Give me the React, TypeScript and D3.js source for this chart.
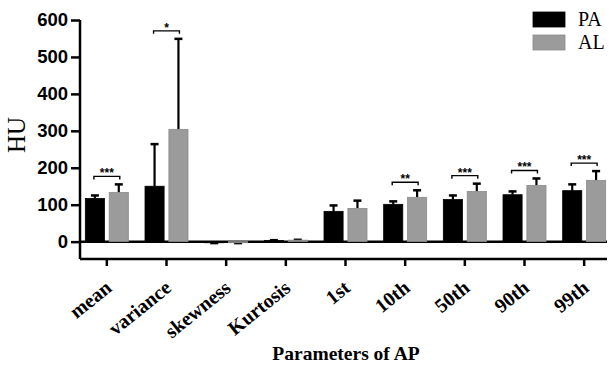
import React, { useRef, useEffect } from 'react';
import * as d3 from 'd3';

const categories = ['mean', 'variance', 'skewness', 'Kurtosis', '1st', '10th', '50th', '90th', '99th'];
const seriesNames = ['PA', 'AL'];
const paValues = [117, 150, -3, 3, 82, 101, 114, 127, 138];
const paErrors = [8, 114, -1, 1, 16, 8, 11, 9, 17];
const alValues = [133, 304, -3, 4, 90, 120, 136, 152, 166];
const alErrors = [22, 245, -1, 1, 21, 19, 21, 19, 25];
const significance = ['***', '*', '', '', '', '**', '***', '***', '***'];
const yTicks = [0, 100, 200, 300, 400, 500, 600];

const serif = '"Liberation Serif", "Times New Roman", serif';
const sans = '"Liberation Sans", Arial, sans-serif';
const colors = ['#000000', '#9b9b9b'];

const App: React.FC = () => {
  const svgRef = useRef<SVGSVGElement | null>(null);
  const width = 609;
  const height = 371;

  useEffect(() => {
    const svg = d3.select(svgRef.current);
    svg.selectAll('*').remove();

    const left = 80;
    const right = 607;
    const top = 20;
    const bottom = 259;

    const x = d3.scaleBand().domain(categories).range([77, 614]);
    const xInner = d3.scaleBand().domain(seriesNames).range([-21.5, 21.5]).paddingInner(0.2);
    const y = d3.scaleLinear().domain([-47, 600]).range([bottom, top]);

    const rows = categories.map((c, i) => ({
      category: c,
      sig: significance[i],
      bars: [
        { name: 'PA', value: paValues[i], err: paErrors[i] },
        { name: 'AL', value: alValues[i], err: alErrors[i] },
      ],
    }));

    const cx = (c: string) => (x(c) ?? 0) + x.bandwidth() / 2;

    // zero line
    svg.append('line')
      .attr('x1', left).attr('x2', right)
      .attr('y1', y(0)).attr('y2', y(0))
      .attr('stroke', '#000').attr('stroke-width', 2.5);

    const groups = svg.append('g')
      .selectAll('g')
      .data(rows)
      .join('g')
      .attr('transform', d => `translate(${cx(d.category)},0)`);

    // error bars (one-sided, GraphPad style)
    groups.selectAll('g.err')
      .data(d => d.bars)
      .join('g')
      .attr('class', 'err')
      .each(function (d) {
        const g = d3.select(this);
        const bx = (xInner(d.name) ?? 0) + xInner.bandwidth() / 2;
        const end = d.value + d.err;
        g.append('line')
          .attr('x1', bx).attr('x2', bx)
          .attr('y1', y(d.value)).attr('y2', y(end))
          .attr('stroke', '#000').attr('stroke-width', 2.2);
        g.append('line')
          .attr('x1', bx - 4).attr('x2', bx + 4)
          .attr('y1', y(end)).attr('y2', y(end))
          .attr('stroke', '#000').attr('stroke-width', 2.5);
      });

    groups.selectAll('rect')
      .data(d => d.bars)
      .join('rect')
      .attr('x', d => xInner(d.name)!)
      .attr('y', d => Math.min(y(d.value), y(0)))
      .attr('width', xInner.bandwidth())
      .attr('height', d => Math.abs(y(d.value) - y(0)))
      .attr('fill', (d, i) => colors[i])
      .attr('stroke', (d, i) => (i === 0 ? '#000' : '#8a8a8a'))
      .attr('stroke-width', 0.8);

    // significance brackets
    const sigRows = rows.filter(d => d.sig !== '');
    const sg = svg.append('g')
      .selectAll('g')
      .data(sigRows)
      .join('g')
      .attr('transform', d => {
        const maxTop = d3.max(d.bars, b => b.value + b.err) ?? 0;
        return `translate(${cx(d.category)},${y(maxTop) - 8})`;
      });
    const x0 = (xInner('PA') ?? 0) + xInner.bandwidth() / 2 - 1;
    const x1 = (xInner('AL') ?? 0) + xInner.bandwidth() / 2 + 1;
    sg.append('path')
      .attr('d', `M${x0},3V0H${x1}V3`)
      .attr('fill', 'none')
      .attr('stroke', '#000')
      .attr('stroke-width', 1.4);
    sg.append('text')
      .attr('x', (x0 + x1) / 2)
      .attr('y', 1)
      .attr('text-anchor', 'middle')
      .attr('font-family', sans)
      .attr('font-weight', 'bold')
      .attr('font-size', 12)
      .text(d => d.sig);

    // y axis
    const yAxis = svg.append('g')
      .attr('transform', `translate(${left},0)`)
      .call(d3.axisLeft(y).tickValues(yTicks).tickSize(9).tickSizeOuter(0).tickPadding(3));
    yAxis.select('.domain').attr('d', `M0,${top}V${bottom}`).attr('stroke-width', 2.5);
    yAxis.selectAll('.tick line').attr('stroke-width', 2.5);
    yAxis.selectAll('.tick text')
      .attr('font-family', sans)
      .attr('font-weight', 'bold')
      .attr('font-size', 18.5)
      .attr('fill', '#000');

    // x axis
    const xAxis = svg.append('g')
      .attr('transform', `translate(0,${bottom})`)
      .call(d3.axisBottom(x).tickSize(7).tickSizeOuter(0));
    xAxis.select('.domain').attr('d', `M${left},0H${right}`).attr('stroke-width', 2.5);
    xAxis.selectAll('.tick line').attr('stroke-width', 2.5);
    xAxis.selectAll('.tick text')
      .attr('font-family', serif)
      .attr('font-weight', 'bold')
      .attr('font-size', 20)
      .attr('fill', '#000')
      .attr('text-anchor', 'end')
      .attr('y', 0)
      .attr('dy', 0)
      .attr('transform', 'translate(6,31) rotate(-39)');

    // axis titles
    svg.append('text')
      .attr('transform', 'translate(25,135) rotate(-90)')
      .attr('text-anchor', 'middle')
      .attr('font-family', serif)
      .attr('font-size', 25)
      .text('HU');

    svg.append('text')
      .attr('x', 346)
      .attr('y', 360)
      .attr('text-anchor', 'middle')
      .attr('font-family', serif)
      .attr('font-weight', 'bold')
      .attr('font-size', 19.5)
      .text('Parameters of AP');

    // legend
    const legend = svg.append('g')
      .selectAll('g')
      .data(seriesNames)
      .join('g')
      .attr('transform', (d, i) => `translate(533,${12 + i * 23})`);
    legend.append('rect')
      .attr('width', 32)
      .attr('height', 15)
      .attr('fill', (d, i) => colors[i])
      .attr('stroke', (d, i) => (i === 0 ? '#000' : '#8a8a8a'))
      .attr('stroke-width', 0.8);
    legend.append('text')
      .attr('x', 45)
      .attr('y', 14)
      .attr('font-family', serif)
      .attr('font-size', 20)
      .text(d => d);
  }, []);

  return (
    <svg ref={svgRef} width={width} height={height} style={{ position: 'absolute', left: 0, top: 0, background: '#fff' }} />
  );
};

export default App;
